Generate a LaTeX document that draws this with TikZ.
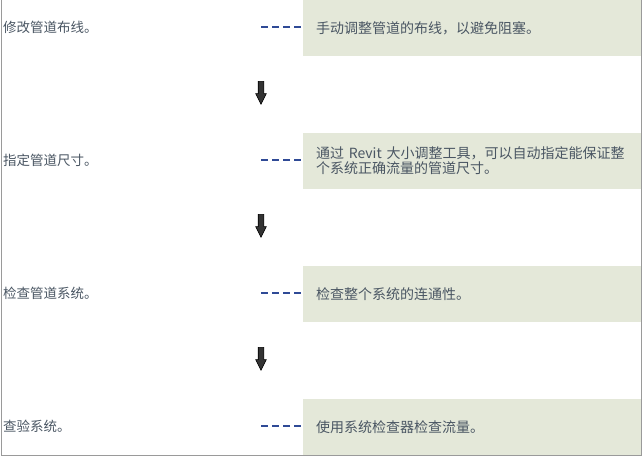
\documentclass[tikz,border=0pt]{standalone}
\usepackage{fontspec}
\setmainfont{Noto Sans CJK SC}
\usetikzlibrary{shapes.arrows}
\definecolor{boxfill}{HTML}{E4E8D9}
\definecolor{txt}{HTML}{4A5663}
\definecolor{dashblue}{HTML}{2F4A96}
\definecolor{frame}{HTML}{9A9A9A}
\tikzset{
  steplabel/.style={anchor=west, inner sep=0pt, font=\fontsize{13.5}{14}\selectfont, text=txt},
  notebox/.style={anchor=north west, fill=boxfill, draw=none, minimum width=338pt, minimum height=55.5pt,
    inner xsep=13pt, inner ysep=0pt, text width=312pt, align=left, font=\fontsize{14}{14.5}\selectfont, text=txt},
  linkline/.style={draw=dashblue, line width=2pt, dash pattern=on 7pt off 4pt, shorten >=2.5pt},
  downarrow/.style={shape=single arrow, rotate=270, fill=black!80, draw=black, line width=0.6pt,
    minimum height=23pt, minimum width=10pt, inner sep=0pt, inner ysep=2.5pt,
    single arrow head extend=2.5pt, single arrow tip angle=53},
  frameline/.style={draw=frame, line width=1.5pt}
}
\begin{document}
\begin{tikzpicture}[x=1pt,y=-1pt]
\useasboundingbox (0,0) rectangle (644,458);
% frame
\coordinate (ftl) at (1.5,0);
\coordinate (fbl) at (1.5,455.5);
\coordinate (fbr) at (641.5,455.5);
\coordinate (ftr) at (641.5,0);
\draw[frameline] (ftl) -- (fbl) -- (fbr) -- (ftr);
% boxes
\node[notebox] (b1) at (303,0) {\raisebox{-2pt}{手动调整管道的布线，以避免阻塞。}};
\node[notebox] (b2) at (303,133) {\raisebox{-2pt}{\parbox{312pt}{\fontsize{14}{15}\selectfont 通过 Revit 大小调整工具，可以自动指定能保证整\\个系统正确流量的管道尺寸。}}};
\node[notebox] (b3) at (303,266) {\raisebox{-2pt}{检查整个系统的连通性。}};
\node[notebox] (b4) at (303,399) {\raisebox{-2pt}{使用系统检查器检查流量。}};
% left labels
\node[steplabel] (s1) at (3,27) {修改管道布线。};
\node[steplabel] (s2) at (3,160) {指定管道尺寸。};
\node[steplabel] (s3) at (3,293) {检查管道系统。};
\node[steplabel] (s4) at (3,426) {查验系统。};
% dashed connectors
\coordinate (d1) at (261,27);
\coordinate (d2) at (261,160);
\coordinate (d3) at (261,293);
\coordinate (d4) at (261,426);
\draw[linkline] (d1) -- (d1 -| b1.west);
\draw[linkline] (d2) -- (d2 -| b2.west);
\draw[linkline] (d3) -- (d3 -| b3.west);
\draw[linkline] (d4) -- (d4 -| b4.west);
% arrows
\node[downarrow] (a1) at (261,90) {};
\node[downarrow] (a2) at (261,223) {};
\node[downarrow] (a3) at (261,356) {};
\end{tikzpicture}
\end{document}
